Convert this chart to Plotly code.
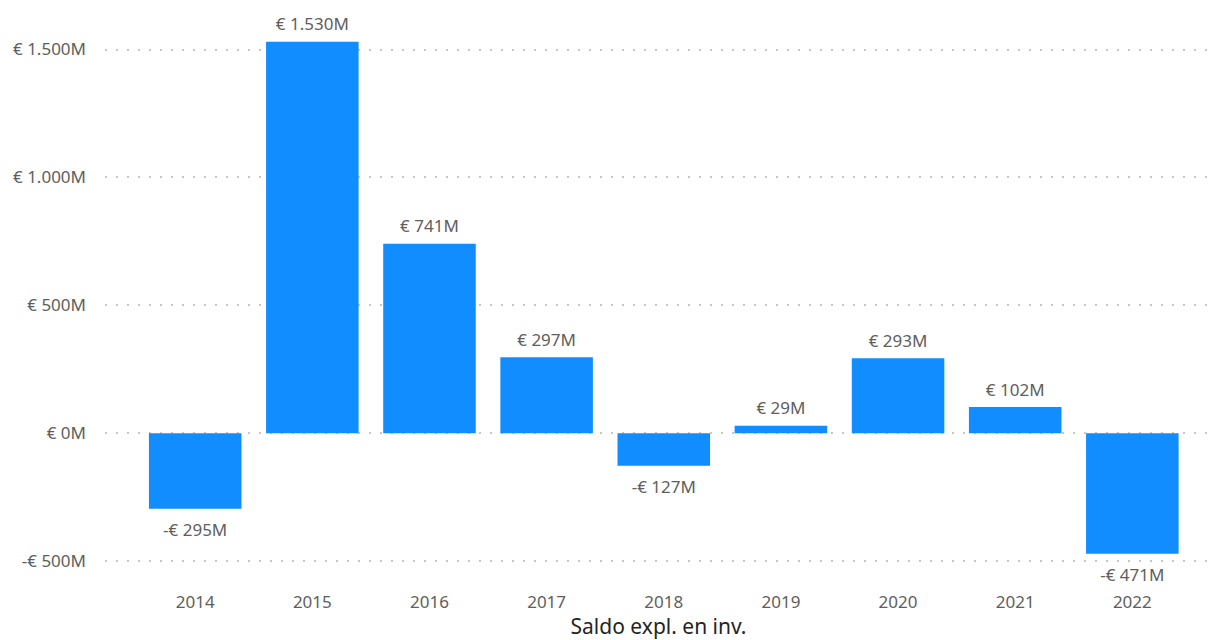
import plotly.graph_objects as go

years = ["2014", "2015", "2016", "2017", "2018", "2019", "2020", "2021", "2022"]
saldo = [-295, 1530, 741, 297, -127, 29, 293, 102, -471]  # miljoen euro
y_ticks = [-500, 0, 500, 1000, 1500]

BAR_COLOR = "#118DFF"
LABEL_COLOR = "#605E5C"
FONT = "Noto Sans"


def euro(v):
    s = f"{abs(v):,}".replace(",", ".")
    return ("-" if v < 0 else "") + f"€ {s}M"


fig = go.Figure()
fig.add_trace(go.Bar(
    x=years,
    y=saldo,
    marker_color=BAR_COLOR,
    marker_line_width=0,
    hovertemplate="%{x}: %{y}M<extra></extra>",
))

# data labels: invisible markers push the text away from the bar end
fig.add_trace(go.Scatter(
    x=years,
    y=saldo,
    mode="markers+text",
    text=[euro(v) for v in saldo],
    textposition=["top center" if v >= 0 else "bottom center" for v in saldo],
    textfont=dict(family=FONT, size=17, color=LABEL_COLOR),
    marker=dict(size=[10 if v >= 0 else 22 for v in saldo], opacity=0),
    cliponaxis=False,
    hoverinfo="skip",
))

# the page body adds an 8px margin, so the figure is 8px smaller
fig.update_layout(
    width=1210,
    height=632,
    margin=dict(l=97, r=6, t=7, b=50),
    plot_bgcolor="white",
    paper_bgcolor="white",
    bargap=0.21,
    showlegend=False,
    font=dict(family=FONT, size=17, color=LABEL_COLOR),
)
fig.update_xaxes(
    type="category",
    range=[-0.77, 8.68],
    automargin=False,
    showgrid=False,
    showline=False,
    ticks="",
    tickfont=dict(size=17, color=LABEL_COLOR),
    title=dict(text="Saldo expl. en inv.", font=dict(size=21, color="#252423"), standoff=4),
)
fig.update_yaxes(
    range=[-613, 1635],
    automargin=False,
    tickvals=y_ticks,
    ticktext=[euro(v) for v in y_ticks],
    showgrid=True,
    gridcolor="#C8C6C4",
    griddash="2px,9px",
    gridwidth=1.5,
    zeroline=False,
    showline=False,
    ticklabelstandoff=18,
    tickfont=dict(size=17, color=LABEL_COLOR),
)

fig.write_html("out.html")
